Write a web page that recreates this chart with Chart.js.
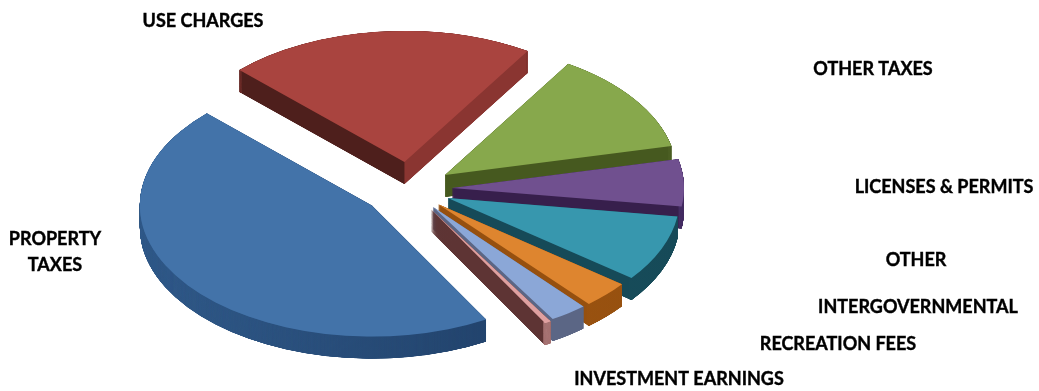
<!DOCTYPE html>
<html>
<head>
<meta charset="utf-8">
<title>Revenue sources</title>
<script src="https://cdn.jsdelivr.net/npm/chart.js@4"></script>
<style>
  html, body { margin: 0; padding: 0; background: #fff; }
  #wrap { position: relative; width: 1039px; height: 391px; }
</style>
</head>
<body>
<div id="wrap"><canvas id="myChart"></canvas></div>
<script>
const categories = [
  ["PROPERTY", "TAXES"],
  "USE CHARGES",
  "OTHER TAXES",
  "LICENSES & PERMITS",
  "OTHER",
  "INTERGOVERNMENTAL",
  "RECREATION FEES",
  "INVESTMENT EARNINGS",
];
const shares = [45.6, 21.5, 12.55, 5.8, 8.2, 3.3, 2.6, 0.45];

const topColors = ["#4373a9", "#a9443f", "#87a84c", "#70508f", "#3797ae", "#de852f", "#8ba7d7", "#dfa0a0"];
const wallLeft = ["#1f3f68", "#4e1f1c", "#46591f", "#371f4c", "#164a58", "#96500f", "#5c3535", "#5e3434"];
const wallRight = ["#1f3f68", "#8a3531", "#46591f", "#371f4c", "#164a58", "#96500f", "#5b6685", "#5e3434"];
const rimLeft = ["#3a6a9f", "#7a2f2b", "#5d7430", "#4b3370", "#1f5a6b", "#a85c14", "#5b6685", "#d49a9a"];
const rimRight = ["#1c3a60", "#7a2f2b", "#4d6125", "#4b3370", "#164a58", "#96500f", "#5b6685", "#d49a9a"];

// how far each slice is pulled out of the pie
const explode = [48, 48, 43, 42, 41, 39, 39, 41];
// back slices first so the front ones cover them
const drawOrder = [1, 2, 3, 4, 5, 6, 7, 0];

const tilt = 0.565;
const depth = 22;
const pieRadius = 232;

// center x / middle y of each label
const labelPos = [
  [55, 252], [203, 21], [873, 69], [944, 187],
  [916, 260], [918, 307], [838, 344], [679, 379],
];

function sideGradient(ctx, arc, left, right) {
  const g = ctx.createLinearGradient(arc.x - pieRadius, 0, arc.x + pieRadius, 0);
  g.addColorStop(0, left);
  g.addColorStop(1, right);
  return g;
}

function wallGradient(ctx, arc, left, right) {
  const g = ctx.createLinearGradient(arc.x - 0.5, 0, arc.x + 0.5, 0);
  g.addColorStop(0, left);
  g.addColorStop(1, right);
  return g;
}

// copy of an arc with other colors, optionally only its outer band
function arcLayer(arc, color, innerRadius) {
  const layer = Object.create(arc);
  layer.options = { ...arc.options, backgroundColor: color, borderColor: color, borderWidth: 0 };
  if (innerRadius !== undefined) layer.innerRadius = innerRadius;
  return layer;
}

function drawLabel(ctx, text, x, y) {
  ctx.fillText(text, x, y);
  ctx.strokeText(text, x, y);
}

const tiltedPie = {
  id: "tiltedPie",
  beforeDatasetDraw(chart, args) {
    const ctx = chart.ctx;
    const arcs = args.meta.data;
    const cy = arcs[0].y;
    const extrude = depth / tilt;

    ctx.save();
    ctx.translate(0, cy);
    ctx.scale(1, tilt);
    ctx.translate(0, -cy);

    drawOrder.forEach((i) => {
      const arc = arcs[i];
      const mid = (arc.startAngle + arc.endAngle) / 2;
      ctx.save();
      ctx.translate(Math.cos(mid) * explode[i], Math.sin(mid) * explode[i]);

      const wall = arcLayer(arc, wallGradient(ctx, arc, wallLeft[i], wallRight[i]));
      const rim = arcLayer(arc, sideGradient(ctx, arc, rimLeft[i], rimRight[i]), arc.outerRadius - 3);
      // small steps, the thin slices leave gaps near the tip otherwise
      for (let d = extrude; d > 0; d -= 0.25) {
        ctx.save();
        ctx.translate(0, d);
        wall.draw(ctx);
        rim.draw(ctx);
        ctx.restore();
      }
      arc.draw(ctx);
      ctx.restore();
    });

    ctx.restore();
    return false;
  },
  afterDraw(chart) {
    const ctx = chart.ctx;
    ctx.save();
    ctx.fillStyle = "#000";
    ctx.strokeStyle = "#000";
    ctx.lineWidth = 0.4;
    ctx.font = "bold 18px Lato";
    ctx.textAlign = "center";
    ctx.textBaseline = "middle";
    categories.forEach((label, i) => {
      const [x, y] = labelPos[i];
      if (Array.isArray(label)) {
        drawLabel(ctx, label[0], x, y - 13);
        drawLabel(ctx, label[1], x, y + 13);
      } else {
        drawLabel(ctx, label, x, y);
      }
    });
    ctx.restore();
  },
};

new Chart(document.getElementById("myChart"), {
  type: "pie",
  data: {
    labels: categories,
    datasets: [{ data: shares, backgroundColor: topColors, borderWidth: 0 }],
  },
  options: {
    responsive: true,
    maintainAspectRatio: false,
    animation: false,
    rotation: 150.5,
    radius: pieRadius,
    layout: { padding: { right: 219, bottom: 13 } },
    plugins: { legend: { display: false }, tooltip: { enabled: false } },
  },
  plugins: [tiltedPie],
});
</script>
</body>
</html>
